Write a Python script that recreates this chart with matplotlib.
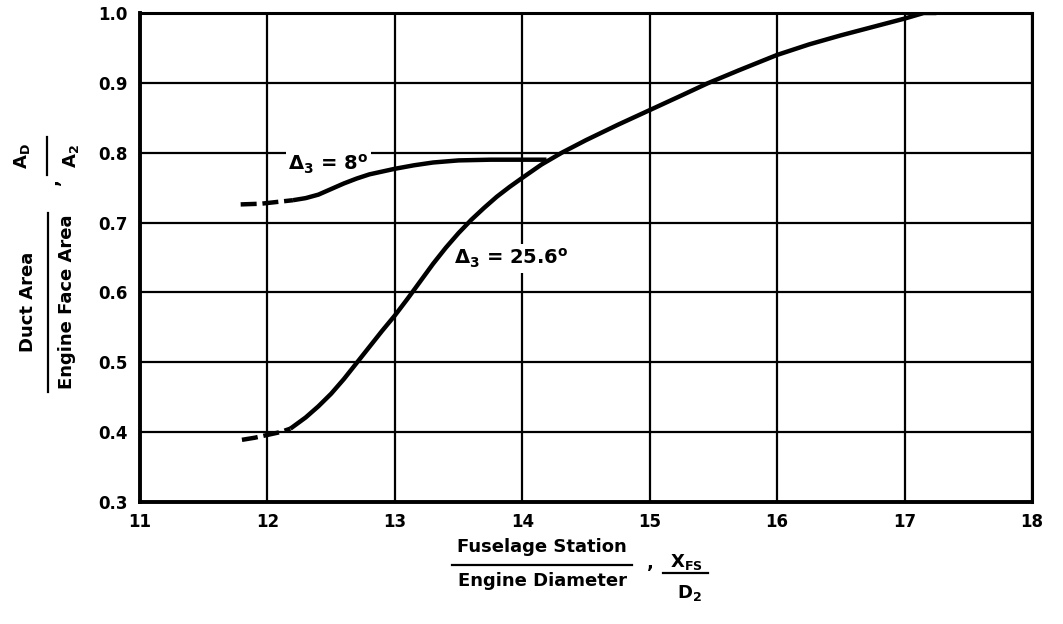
import matplotlib
matplotlib.use('Agg')
import matplotlib.pyplot as plt
from matplotlib.transforms import Affine2D
from matplotlib.lines import Line2D

# ---------------- data ----------------
x_ticks = [11, 12, 13, 14, 15, 16, 17, 18]
x_tick_labels = ['11', '12', '13', '14', '15', '16', '17', '18']
y_ticks = [0.3, 0.4, 0.5, 0.6, 0.7, 0.8, 0.9, 1.0]
y_tick_labels = ['0.3', '0.4', '0.5', '0.6', '0.7', '0.8', '0.9', '1.0']

# Delta_3 = 8 deg curve (dashed start, then solid)
d8_dash_x = [11.79, 11.95, 12.10, 12.20]
d8_dash_y = [0.726, 0.727, 0.730, 0.732]
d8_x = [12.20, 12.30, 12.40, 12.50, 12.60, 12.70, 12.80, 12.90, 13.00, 13.15, 13.30,
        13.50, 13.75, 14.00, 14.19]
d8_y = [0.732, 0.735, 0.740, 0.748, 0.756, 0.763, 0.769, 0.773, 0.777, 0.782, 0.786,
        0.789, 0.790, 0.790, 0.790]

# Delta_3 = 25.6 deg curve (dashed start, then solid)
d25_dash_x = [11.80, 11.90, 12.00, 12.10, 12.18]
d25_dash_y = [0.389, 0.392, 0.396, 0.400, 0.405]
d25_x = [12.18, 12.30, 12.40, 12.50, 12.60, 12.70, 12.80, 12.90, 13.00, 13.10, 13.20,
         13.30, 13.40, 13.50, 13.60, 13.70, 13.80, 13.90, 14.00, 14.15, 14.31, 14.50,
         14.75, 15.00, 15.25, 15.45, 15.70, 16.00, 16.25, 16.50, 16.75, 17.00, 17.15, 17.25]
d25_y = [0.405, 0.421, 0.437, 0.455, 0.476, 0.499, 0.522, 0.545, 0.567, 0.591, 0.616,
         0.641, 0.664, 0.685, 0.704, 0.721, 0.737, 0.751, 0.764, 0.783, 0.800, 0.818,
         0.840, 0.861, 0.882, 0.899, 0.918, 0.940, 0.955, 0.968, 0.980, 0.992, 1.000, 1.000]

label_8 = r'$\Delta_3$ = 8$^{o}$'
label_25 = r'$\Delta_3$ = 25.6$^{o}$'

# ---------------- style ----------------
plt.rcParams['font.family'] = ['DejaVu Sans']
plt.rcParams['font.weight'] = 'bold'
plt.rcParams['mathtext.fontset'] = 'dejavusans'
plt.rcParams['mathtext.default'] = 'bf'

W, H = 1063, 624
fig = plt.figure(figsize=(W / 100, H / 100), dpi=100)
L, R, T, B = 140, 1032, 13, 502
ax = fig.add_axes([L / W, 1 - B / H, (R - L) / W, (B - T) / H])

ax.set_xlim(11, 18)
ax.set_ylim(0.3, 1.0)
ax.set_xticks(x_ticks)
ax.set_xticklabels(x_tick_labels)
ax.set_yticks(y_ticks)
ax.set_yticklabels(y_tick_labels)
ax.tick_params(axis='both', length=0, labelsize=12)
ax.tick_params(axis='y', pad=9)
ax.tick_params(axis='x', pad=8)
for lab in ax.get_xticklabels() + ax.get_yticklabels():
    lab.set_fontweight('bold')

ax.set_axisbelow(True)
ax.grid(True, color='black', linewidth=1.6)
for side, lw in (('left', 2.8), ('bottom', 2.8), ('top', 2.2), ('right', 2.2)):
    ax.spines[side].set_linewidth(lw)
    ax.spines[side].set_color('black')

lw_curve = 3.2
ax.plot(d8_dash_x, d8_dash_y, color='black', lw=lw_curve, linestyle=(0, (3.6, 1.3)),
        dash_capstyle='butt', zorder=3)
ax.plot(d8_x, d8_y, color='black', lw=lw_curve, solid_joinstyle='round',
        solid_capstyle='butt', zorder=3)
ax.plot(d25_dash_x, d25_dash_y, color='black', lw=lw_curve, linestyle=(0, (3.6, 1.3)),
        dash_capstyle='butt', zorder=3)
ax.plot(d25_x, d25_y, color='black', lw=lw_curve, solid_joinstyle='round',
        solid_capstyle='butt', zorder=3)

box = dict(facecolor='white', edgecolor='none', pad=2)
ax.text(12.165, 0.774, label_8, fontsize=14, fontweight='bold', ha='left', va='baseline',
        bbox=box, zorder=2)
ax.text(13.465, 0.640, label_25, fontsize=14, fontweight='bold', ha='left', va='baseline',
        bbox=box, zorder=2)

# ---------------- axis titles (fraction form) ----------------
pix = Affine2D().scale(1 / W, -1 / H).translate(0, 1) + fig.transFigure
fs_lab = 13

# x label
fig.text(542, 552, 'Fuselage Station', transform=pix, fontsize=fs_lab, fontweight='bold',
         ha='center', va='baseline')
fig.add_artist(Line2D([452, 632], [565, 565], transform=pix, color='black', lw=1.6))
fig.text(542, 586, 'Engine Diameter', transform=pix, fontsize=fs_lab, fontweight='bold',
         ha='center', va='baseline')
fig.text(650, 568, ',', transform=pix, fontsize=fs_lab, fontweight='bold',
         ha='center', va='baseline')
fig.text(686, 567, r'$X_{FS}$', transform=pix, fontsize=fs_lab, fontweight='bold',
         ha='center', va='baseline')
fig.add_artist(Line2D([663, 708], [573, 573], transform=pix, color='black', lw=1.6))
fig.text(689, 598, r'$D_2$', transform=pix, fontsize=fs_lab, fontweight='bold',
         ha='center', va='baseline')

# y label
fig.text(28, 302, 'Duct Area', transform=pix, fontsize=fs_lab, fontweight='bold',
         rotation=90, ha='center', va='center')
fig.add_artist(Line2D([48, 48], [213, 392], transform=pix, color='black', lw=1.6))
fig.text(67, 302, 'Engine Face Area', transform=pix, fontsize=fs_lab, fontweight='bold',
         rotation=90, ha='center', va='center')
fig.text(53, 182, ',', transform=pix, fontsize=fs_lab, fontweight='bold',
         rotation=90, ha='center', va='center')
fig.text(22, 156, r'$A_D$', transform=pix, fontsize=fs_lab, fontweight='bold',
         rotation=90, ha='center', va='center')
fig.add_artist(Line2D([47, 47], [137, 175], transform=pix, color='black', lw=1.6))
fig.text(71, 156, r'$A_2$', transform=pix, fontsize=fs_lab, fontweight='bold',
         rotation=90, ha='center', va='center')

fig.savefig('out.png', dpi=100, facecolor='white')
